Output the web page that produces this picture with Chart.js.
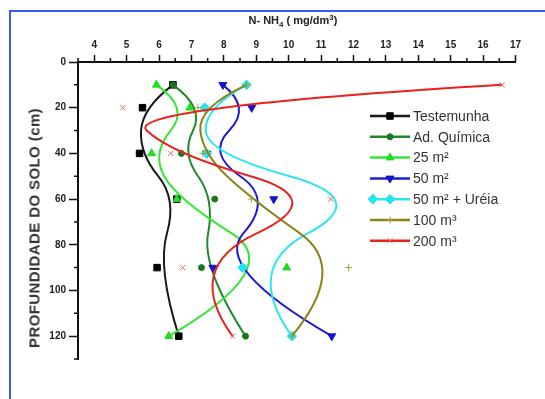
<!DOCTYPE html>
<html>
<head>
<meta charset="utf-8">
<script src="https://cdn.jsdelivr.net/npm/chart.js@4"></script>
<style>
  html, body { margin: 0; padding: 0; background: #fff; overflow: hidden; }
  #wrap { position: relative; width: 545px; height: 399px; overflow: hidden; }
  #frame { position: absolute; left: 9px; top: 10px; width: 600px; height: 500px;
           border: 2px solid #3c5cf8; box-sizing: border-box; }
  #plot { position: absolute; left: 0; top: 0; }
  #xTitle { position: absolute; left: 193px; width: 200px; top: 11px; text-align: center;
            font: bold 11px "Liberation Sans", Arial, sans-serif; color: #222; line-height: 14px; white-space: nowrap; }
  #xTitle sub { font-size: 8px; vertical-align: -3px; }
  #xTitle sup { font-size: 8px; vertical-align: 4px; }
  #yTitle { position: absolute; left: 34px; top: 228px; transform: translate(-50%, -50%) rotate(-90deg);
            font: bold 15px "Liberation Sans", Arial, sans-serif; color: #333; white-space: nowrap; letter-spacing: 0.4px; }
</style>
</head>
<body>
<div id="wrap">
  <div id="frame"></div>
  <canvas id="plot" width="545" height="399"></canvas>
  <div id="xTitle">N- NH<sub>4</sub> ( mg/dm<sup>3</sup>)</div>
  <div id="yTitle">PROFUNDIDADE DO SOLO (cm)</div>
</div>
<script>
// Soil depth of each sample (cm)
const depthCm = [10, 20, 40, 60, 90, 120];

// N-NH4 content (mg/dm3) per treatment, one value per depth
const testemunha  = [6.43, 5.49, 5.40, 6.55, 5.94, 6.61];
const adQuimica   = [6.43, 7.41, 6.69, 7.72, 7.31, 8.67];
const dose25      = [5.92, 6.95, 5.77, 6.55, 9.94, 6.30];
const dose50      = [7.97, 8.86, 7.47, 9.54, 7.66, 11.33];
const dose50Ureia = [8.70, 7.41, 7.47, 12.60, 8.58, 10.10];
const dose100     = [8.70, 7.20, 7.35, 8.85, 11.85, 10.10];
const dose200     = [16.58, 4.88, 6.36, 11.30, 6.73, 8.27];

const seriesNames = ['Testemunha', 'Ad. Química', '25 m²', '50 m²', '50 m² + Uréia', '100 m³', '200 m³'];

// Axis ticks
const xTickValues  = [4, 5, 6, 7, 8, 9, 10, 11, 12, 13, 14, 15, 16, 17];
const xMinorTicks  = [3.5, 4.5, 5.5, 6.5, 7.5, 8.5, 9.5, 10.5, 11.5, 12.5, 13.5, 14.5, 15.5, 16.5];
const yTickValues  = [0, 20, 40, 60, 80, 100, 120];
const yMinorTicks  = [10, 30, 50, 70, 90, 110, 130];

const FONT = '"Liberation Sans", Arial, sans-serif';

const styles = [
  { curve: '#1a1a1a', fill: '#000000', stroke: '#000000', pointStyle: 'rect',     radius: 4.6, rotation: 0,   bw: 1 },
  { curve: '#1f8a2a', fill: '#17771f', stroke: '#17771f', pointStyle: 'circle',   radius: 3,   rotation: 0,   bw: 1 },
  { curve: '#33e833', fill: '#22dd22', stroke: '#22dd22', pointStyle: 'triangle', radius: 4.6, rotation: 0,   bw: 1 },
  { curve: '#1c1cd0', fill: '#1515cc', stroke: '#1515cc', pointStyle: 'triangle', radius: 4.6, rotation: 180, bw: 1 },
  { curve: '#2ae6f2', fill: '#22e4f0', stroke: '#22e4f0', pointStyle: 'rectRot',  radius: 4.8, rotation: 0,   bw: 1 },
  { curve: '#8a8418', fill: '#a39d3a', stroke: '#a39d3a', pointStyle: 'cross',    radius: 3.5, rotation: 0,   bw: 1 },
  { curve: '#e8231e', fill: '#dc7070', stroke: '#dc7070', pointStyle: 'crossRot', radius: 3.8, rotation: 0,   bw: 1 }
];

const seriesValues = [testemunha, adQuimica, dose25, dose50, dose50Ureia, dose100, dose200];

const datasets = seriesValues.map((vals, i) => ({
  label: seriesNames[i],
  data: depthCm.map((d, j) => ({ x: vals[j], y: d })),
  showLine: false,
  pointStyle: styles[i].pointStyle,
  pointRadius: styles[i].radius,
  pointRotation: styles[i].rotation,
  pointBackgroundColor: styles[i].fill,
  pointBorderColor: styles[i].stroke,
  pointBorderWidth: styles[i].bw,
  borderColor: styles[i].curve,
  order: seriesValues.length - i,
  curveColor: styles[i].curve
}));

// Quadratic B-spline through each series' points (control polygon = data points)
const bSplinePlugin = {
  id: 'bSpline',
  beforeDatasetDraw(chart, args) {
    const ds = chart.data.datasets[args.index];
    const pts = args.meta.data;
    const n = pts.length;
    if (n < 3) return;
    const ctx = chart.ctx;
    const a = chart.chartArea;
    const mid = (p, q) => ({ x: (p.x + q.x) / 2, y: (p.y + q.y) / 2 });
    ctx.save();
    ctx.beginPath();
    ctx.rect(a.left, a.top, a.right - a.left, a.bottom - a.top);
    ctx.clip();
    ctx.beginPath();
    ctx.moveTo(pts[0].x, pts[0].y);
    for (let i = 1; i <= n - 2; i++) {
      const end = (i === n - 2) ? pts[n - 1] : mid(pts[i], pts[i + 1]);
      ctx.quadraticCurveTo(pts[i].x, pts[i].y, end.x, end.y);
    }
    ctx.strokeStyle = ds.curveColor;
    ctx.lineWidth = 2;
    ctx.lineJoin = 'round';
    ctx.lineCap = 'round';
    ctx.stroke();
    ctx.restore();
  }
};

// Short ticks between the labelled ones
const minorTickPlugin = {
  id: 'minorTicks',
  afterDraw(chart) {
    const { ctx } = chart;
    const xs = chart.scales.x, ys = chart.scales.y;
    ctx.save();
    ctx.strokeStyle = '#111';
    ctx.lineWidth = 1.5;
    ctx.beginPath();
    xMinorTicks.forEach(v => {
      const px = xs.getPixelForValue(v);
      ctx.moveTo(px, xs.bottom);
      ctx.lineTo(px, xs.bottom - 4);
    });
    yMinorTicks.forEach(v => {
      const py = ys.getPixelForValue(v);
      ctx.moveTo(ys.right, py);
      ctx.lineTo(ys.right - 4, py);
    });
    ctx.stroke();
    ctx.restore();
  }
};

// Legend drawn inside the plot area
const legendPlugin = {
  id: 'insideLegend',
  afterDatasetsDraw(chart) {
    const ctx = chart.ctx;
    const x0 = 370, x1 = 410, top = 116, step = 20.8;
    ctx.save();
    chart.data.datasets.forEach((ds, i) => {
      const y = top + i * step;
      const st = styles[i];
      ctx.strokeStyle = st.curve;
      ctx.lineWidth = 2.5;
      ctx.beginPath();
      ctx.moveTo(x0, y);
      ctx.lineTo(x1, y);
      ctx.stroke();
      ctx.fillStyle = st.fill;
      ctx.strokeStyle = st.stroke;
      ctx.lineWidth = st.bw;
      Chart.helpers.drawPoint(ctx, { pointStyle: st.pointStyle, radius: st.radius, rotation: st.rotation, borderWidth: st.bw }, (x0 + x1) / 2, y);
      ctx.fillStyle = '#333';
      ctx.font = '14px ' + FONT;
      ctx.textBaseline = 'middle';
      ctx.textAlign = 'left';
      ctx.fillText(ds.label, x1 + 3, y + 1);
    });
    ctx.restore();
  }
};

new Chart(document.getElementById('plot'), {
  type: 'line',
  data: { datasets },
  options: {
    responsive: false,
    animation: false,
    events: [],
    layout: { padding: { left: 0, top: 0, right: 29.5, bottom: 40 } },
    plugins: { legend: { display: false }, tooltip: { enabled: false } },
    scales: {
      x: {
        type: 'linear',
        position: 'top',
        min: 3.5,
        max: 17,
        afterBuildTicks: s => { s.ticks = xTickValues.map(v => ({ value: v })); },
        afterFit: s => { s.height = 62; },
        ticks: { autoSkip: false, maxRotation: 0, padding: 4, color: '#222',
                 font: { family: FONT, size: 10, weight: 'bold' } },
        grid: { drawOnChartArea: false, drawTicks: true, tickLength: 7, tickColor: '#111', tickWidth: 1.5 },
        border: { display: true, color: '#111', width: 2 }
      },
      y: {
        type: 'linear',
        reverse: true,
        min: 0,
        max: 130,
        afterBuildTicks: s => { s.ticks = yTickValues.map(v => ({ value: v })); },
        afterFit: s => { s.width = 78; },
        ticks: { autoSkip: false, padding: 3, color: '#222',
                 font: { family: FONT, size: 10, weight: 'bold' } },
        grid: { drawOnChartArea: false, drawTicks: true, tickLength: 9, tickColor: '#111', tickWidth: 1.5 },
        border: { display: true, color: '#111', width: 2 }
      }
    }
  },
  plugins: [bSplinePlugin, minorTickPlugin, legendPlugin]
});
</script>
</body>
</html>
